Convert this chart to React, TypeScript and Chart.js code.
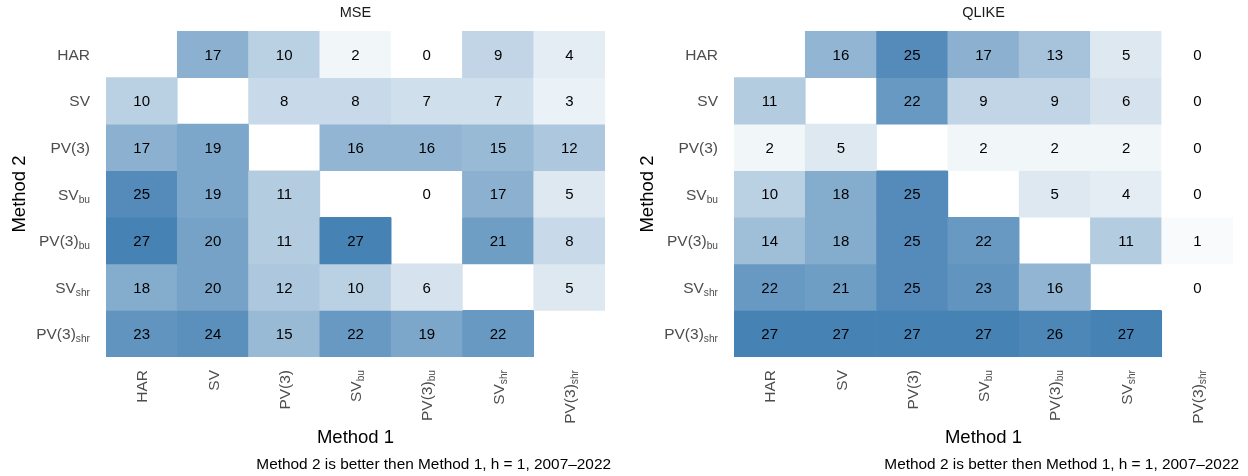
import React, { useEffect, useRef } from "react";
import { Chart, registerables } from "chart.js";

Chart.register(...registerables);

// ---- data ----
const methods = ["HAR", "SV", "PV(3)", "SV_bu", "PV(3)_bu", "SV_shr", "PV(3)_shr"];

// MSE: rows = Method 2, columns = Method 1
const mseHAR = [null, 17, 10, 2, 0, 9, 4];
const mseSV = [10, null, 8, 8, 7, 7, 3];
const msePV3 = [17, 19, null, 16, 16, 15, 12];
const mseSVbu = [25, 19, 11, null, 0, 17, 5];
const msePV3bu = [27, 20, 11, 27, null, 21, 8];
const mseSVshr = [18, 20, 12, 10, 6, null, 5];
const msePV3shr = [23, 24, 15, 22, 19, 22, null];

// QLIKE: rows = Method 2, columns = Method 1
const qlHAR = [null, 16, 25, 17, 13, 5, 0];
const qlSV = [11, null, 22, 9, 9, 6, 0];
const qlPV3 = [2, 5, null, 2, 2, 2, 0];
const qlSVbu = [10, 18, 25, null, 5, 4, 0];
const qlPV3bu = [14, 18, 25, 22, null, 11, 1];
const qlSVshr = [22, 21, 25, 23, 16, null, 0];
const qlPV3shr = [27, 27, 27, 27, 26, 27, null];

const mseRows = [mseHAR, mseSV, msePV3, mseSVbu, msePV3bu, mseSVshr, msePV3shr];
const qlikeRows = [qlHAR, qlSV, qlPV3, qlSVbu, qlPV3bu, qlSVshr, qlPV3shr];

const panelTitles = ["MSE", "QLIKE"];
const xTitle = "Method 1";
const yTitle = "Method 2";
const caption = "Method 2 is better then Method 1, h = 1, 2007\u20132022";
const maxCount = 27;

// ---- style ----
const FONT = '"Liberation Sans", Arial, Helvetica, sans-serif';
const HIGH = [70, 130, 180];
const TICK_SIZE = 15.5;
const NUM_SIZE = 15;
const TITLE_SIZE = 14.5;
const AXIS_TITLE_SIZE = 18.5;
const CAPTION_SIZE = 15.4;

function cellColor(v: number) {
  const t = Math.max(0, Math.min(1, v / maxCount));
  const c = HIGH.map((h) => Math.round(255 + (h - 255) * t));
  return `rgb(${c[0]},${c[1]},${c[2]})`;
}

function splitLabel(s: string): [string, string] {
  const i = s.indexOf("_");
  return i < 0 ? [s, ""] : [s.slice(0, i), s.slice(i + 1)];
}

// right-aligned rich label (main + subscript), main text vertically centred at y
function drawRich(ctx: CanvasRenderingContext2D, label: string, x: number, y: number, size: number, color: string) {
  const [main, sub] = splitLabel(label);
  const subSize = size * 0.66;
  ctx.font = `${size}px ${FONT}`;
  const mw = ctx.measureText(main).width;
  ctx.font = `${subSize}px ${FONT}`;
  const sw = sub ? ctx.measureText(sub).width : 0;
  ctx.fillStyle = color;
  ctx.textAlign = "left";
  ctx.textBaseline = "alphabetic";
  const base = y + size * 0.36;
  ctx.font = `${size}px ${FONT}`;
  ctx.fillText(main, x - mw - sw, base);
  if (sub) {
    ctx.font = `${subSize}px ${FONT}`;
    ctx.fillText(sub, x - sw, base + size * 0.2);
  }
}

function makePlugin(title: string, rows: (number | null)[][]) {
  return {
    id: "heatText",
    afterDatasetsDraw(chart: any) {
      const ctx: CanvasRenderingContext2D = chart.ctx;
      const xs = chart.scales.x;
      const ys = chart.scales.y;
      ctx.save();
      ctx.font = `${NUM_SIZE}px ${FONT}`;
      ctx.fillStyle = "#000000";
      ctx.textAlign = "center";
      ctx.textBaseline = "alphabetic";
      rows.forEach((row, r) => {
        row.forEach((v, c) => {
          if (v === null) return;
          const px = xs.getPixelForValue(c);
          const py = ys.getPixelForValue(r + 0.5);
          ctx.fillText(String(v), px, py + NUM_SIZE * 0.36);
        });
      });
      ctx.restore();
    },
    afterDraw(chart: any) {
      const ctx: CanvasRenderingContext2D = chart.ctx;
      const xs = chart.scales.x;
      const ys = chart.scales.y;
      const area = chart.chartArea;
      const cx = (area.left + area.right) / 2;
      const cy = (area.top + area.bottom) / 2;
      ctx.save();
      // panel title
      ctx.font = `${TITLE_SIZE}px ${FONT}`;
      ctx.fillStyle = "#1a1a1a";
      ctx.textAlign = "center";
      ctx.textBaseline = "alphabetic";
      ctx.fillText(title, cx, 12 + TITLE_SIZE * 0.36);
      // y tick labels
      methods.forEach((m, r) => {
        drawRich(ctx, m, area.left - 16, ys.getPixelForValue(r + 0.5), TICK_SIZE, "#4d4d4d");
      });
      // x tick labels (rotated)
      methods.forEach((m, c) => {
        ctx.save();
        ctx.translate(xs.getPixelForValue(c), area.bottom + 13);
        ctx.rotate(-Math.PI / 2);
        drawRich(ctx, m, 0, 0, TICK_SIZE, "#4d4d4d");
        ctx.restore();
      });
      // axis titles
      ctx.font = `${AXIS_TITLE_SIZE}px ${FONT}`;
      ctx.fillStyle = "#000000";
      ctx.textAlign = "center";
      ctx.textBaseline = "middle";
      ctx.fillText(xTitle, cx, 438);
      ctx.save();
      ctx.translate(area.left - 86, cy);
      ctx.rotate(-Math.PI / 2);
      ctx.fillText(yTitle, 0, 0);
      ctx.restore();
      // caption
      ctx.font = `${CAPTION_SIZE}px ${FONT}`;
      ctx.textAlign = "right";
      ctx.textBaseline = "alphabetic";
      ctx.fillText(caption, area.right + 6, 463 + CAPTION_SIZE * 0.36);
      ctx.restore();
    },
  };
}

function Heatmap({ title, rows, padLeft, padRight }: { title: string; rows: (number | null)[][]; padLeft: number; padRight: number }) {
  const ref = useRef<HTMLCanvasElement>(null);
  useEffect(() => {
    if (!ref.current) return;
    const chart = new Chart(ref.current, {
      type: "bar",
      data: {
        labels: methods,
        datasets: rows.map((row, r) => ({
          label: methods[r],
          data: row.map((v) => (v === null ? null : [r, r + 1])) as any,
          backgroundColor: row.map((v) => cellColor(v ?? 0)),
          borderWidth: 0,
          grouped: false,
          barPercentage: 1,
          categoryPercentage: 1,
        })),
      },
      options: {
        animation: false,
        responsive: false,
        layout: { padding: { left: padLeft, right: padRight, top: 31, bottom: 119 } },
        plugins: { legend: { display: false }, tooltip: { enabled: false }, title: { display: false } },
        scales: {
          x: { type: "category", display: false, offset: true },
          y: { type: "linear", display: false, min: 0, max: 7, reverse: true },
        },
      } as any,
      plugins: [makePlugin(title, rows) as any],
    });
    return () => chart.destroy();
  }, []);
  return <canvas ref={ref} width={624} height={476} style={{ width: 624, height: 476, display: "block" }} />;
}

export default function App() {
  return (
    <div style={{ position: "absolute", left: 0, top: 0, width: 1248, height: 476, display: "flex", background: "#ffffff" }}>
      <Heatmap title={panelTitles[0]} rows={mseRows} padLeft={106} padRight={19} />
      <Heatmap title={panelTitles[1]} rows={qlikeRows} padLeft={110} padRight={15} />
    </div>
  );
}
